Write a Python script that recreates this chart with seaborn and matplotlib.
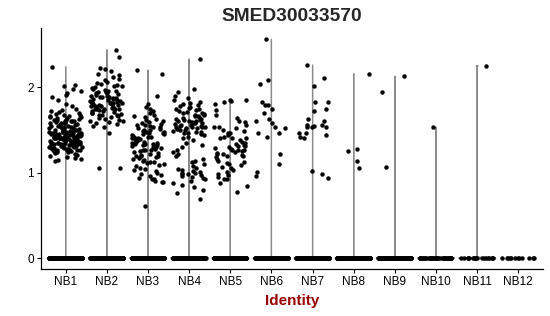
import numpy as np
import pandas as pd
import matplotlib
matplotlib.use("Agg")
import matplotlib.pyplot as plt
import seaborn as sns

# ---------------- data ----------------
categories = ["NB1", "NB2", "NB3", "NB4", "NB5", "NB6",
              "NB7", "NB8", "NB9", "NB10", "NB11", "NB12"]

NB1 = [2.24, 2.03, 2.01, 1.98, 1.96, 1.93, 1.91, 1.88, 1.85, 1.80, 1.78, 1.75,
       1.73, 1.72, 1.71, 1.70, 1.69, 1.68, 1.67, 1.66, 1.66, 1.65, 1.64, 1.64,
       1.63, 1.62, 1.62, 1.61, 1.60, 1.60, 1.59, 1.59, 1.58, 1.58, 1.57, 1.57,
       1.56, 1.56, 1.55, 1.55, 1.54, 1.54, 1.53, 1.53, 1.52, 1.52, 1.51, 1.51,
       1.50, 1.50, 1.50, 1.49, 1.49, 1.48, 1.48, 1.48, 1.47, 1.47, 1.46, 1.46,
       1.46, 1.45, 1.45, 1.45, 1.44, 1.44, 1.44, 1.43, 1.43, 1.43, 1.42, 1.42,
       1.42, 1.42, 1.41, 1.41, 1.41, 1.40, 1.40, 1.40, 1.40, 1.39, 1.39, 1.39,
       1.38, 1.38, 1.38, 1.37, 1.37, 1.37, 1.36, 1.36, 1.36, 1.35, 1.35, 1.35,
       1.34, 1.34, 1.34, 1.33, 1.33, 1.33, 1.32, 1.32, 1.32, 1.31, 1.31, 1.30,
       1.30, 1.30, 1.29, 1.29, 1.28, 1.28, 1.27, 1.27, 1.26, 1.26, 1.25, 1.25,
       1.24, 1.24, 1.23, 1.22, 1.21, 1.20, 1.18, 1.17, 1.16, 1.15, 1.14, 1.44,
       1.46, 1.41, 1.39, 1.43, 1.38, 1.47, 1.36, 1.42, 1.40, 1.45, 1.37, 1.35,
       1.50, 1.33, 1.52, 1.31, 1.55, 1.29, 1.58, 1.27, 1.61, 1.48, 1.44, 1.41,
       1.39, 1.34, 1.30, 1.62, 1.65]
NB2 = [2.44, 2.35, 2.23, 2.21, 2.19, 2.16, 2.14, 2.12, 2.10, 2.08, 2.06, 2.05,
       2.04, 2.02, 2.01, 2.00, 1.99, 1.98, 1.97, 1.96, 1.95, 1.94, 1.93, 1.92,
       1.91, 1.90, 1.90, 1.89, 1.88, 1.87, 1.87, 1.86, 1.85, 1.85, 1.84, 1.84,
       1.83, 1.83, 1.82, 1.82, 1.81, 1.81, 1.80, 1.80, 1.79, 1.79, 1.78, 1.78,
       1.77, 1.77, 1.76, 1.76, 1.75, 1.75, 1.74, 1.74, 1.73, 1.72, 1.72, 1.71,
       1.70, 1.70, 1.69, 1.68, 1.68, 1.67, 1.66, 1.65, 1.64, 1.63, 1.62, 1.61,
       1.60, 1.59, 1.58, 1.57, 1.55, 1.53, 1.46, 1.05, 1.05, 1.86, 1.93, 1.78,
       1.81, 1.88, 1.74, 1.96, 2.03]
NB3 = [2.20, 2.15, 1.90, 1.80, 1.77, 1.75, 1.72, 1.70, 1.68, 1.66, 1.65, 1.63,
       1.62, 1.60, 1.59, 1.58, 1.57, 1.56, 1.55, 1.54, 1.53, 1.52, 1.51, 1.50,
       1.50, 1.49, 1.48, 1.47, 1.46, 1.45, 1.45, 1.44, 1.43, 1.42, 1.42, 1.41,
       1.40, 1.40, 1.39, 1.38, 1.38, 1.37, 1.36, 1.36, 1.35, 1.34, 1.34, 1.33,
       1.32, 1.32, 1.31, 1.30, 1.30, 1.29, 1.28, 1.27, 1.26, 1.25, 1.24, 1.23,
       1.22, 1.21, 1.20, 1.19, 1.18, 1.17, 1.16, 1.15, 1.14, 1.13, 1.12, 1.11,
       1.10, 1.09, 1.08, 1.06, 1.04, 1.03, 1.02, 1.00, 0.99, 0.97, 0.96, 0.94,
       0.93, 0.92, 0.90, 0.89, 0.89, 0.61, 1.48, 1.35, 1.27, 1.56, 1.41, 1.19]
NB4 = [2.33, 1.98, 1.95, 1.90, 1.87, 1.85, 1.83, 1.81, 1.80, 1.79, 1.78, 1.77,
       1.76, 1.75, 1.74, 1.73, 1.72, 1.71, 1.70, 1.69, 1.68, 1.67, 1.66, 1.65,
       1.64, 1.63, 1.62, 1.62, 1.61, 1.60, 1.60, 1.59, 1.58, 1.58, 1.57, 1.56,
       1.56, 1.55, 1.55, 1.54, 1.53, 1.53, 1.52, 1.52, 1.51, 1.50, 1.50, 1.49,
       1.48, 1.47, 1.46, 1.45, 1.44, 1.42, 1.40, 1.38, 1.35, 1.32, 1.30, 1.27,
       1.24, 1.22, 1.19, 1.16, 1.14, 1.12, 1.10, 1.08, 1.06, 1.04, 1.03, 1.02,
       1.01, 1.00, 0.99, 0.98, 0.96, 0.95, 0.94, 0.92, 0.90, 0.88, 0.85, 0.83,
       0.80, 0.76, 0.69, 1.58, 1.63, 1.70, 1.54, 1.48, 1.66, 1.00, 0.97]
NB5 = [1.85, 1.85, 1.84, 1.83, 1.80, 1.73, 1.68, 1.64, 1.60, 1.59, 1.56, 1.54,
       1.53, 1.52, 1.50, 1.49, 1.47, 1.46, 1.44, 1.42, 1.41, 1.40, 1.40, 1.38,
       1.36, 1.35, 1.33, 1.32, 1.31, 1.30, 1.29, 1.28, 1.27, 1.26, 1.25, 1.24,
       1.23, 1.22, 1.21, 1.20, 1.19, 1.18, 1.16, 1.14, 1.12, 1.11, 1.10, 1.09,
       1.07, 1.05, 1.03, 1.01, 0.99, 0.97, 0.95, 0.93, 0.92, 0.88, 0.84, 0.77,
       1.27, 1.31, 1.22]
NB6 = [2.56, 2.08, 2.04, 1.83, 1.79, 1.79, 1.75, 1.70, 1.63, 1.61, 1.58, 1.53,
       1.52, 1.47, 1.46, 1.42, 1.22, 1.10, 1.01, 0.96]
NB7 = [2.26, 2.11, 2.01, 1.83, 1.83, 1.74, 1.72, 1.63, 1.61, 1.56, 1.56, 1.55,
       1.53, 1.53, 1.53, 1.47, 1.47, 1.44, 1.42, 1.40, 1.02, 0.98, 0.94]
NB8 = [2.16, 1.28, 1.25, 1.14, 1.05]
NB9 = [2.13, 1.94, 1.07]
NB10 = [1.53]
NB11 = [2.25]
NB12 = []
nonzero_values = [NB1, NB2, NB3, NB4, NB5, NB6, NB7, NB8, NB9, NB10, NB11, NB12]
# number of cells with zero expression in each identity
zero_counts = [420, 400, 380, 380, 350, 300, 300, 260, 200, 40, 18, 12]

title_text = "SMED30033570"
x_label = "Identity"
y_ticks = [0, 1, 2]

# ---------------- build table ----------------
rows = []
for cat, vals, nz in zip(categories, nonzero_values, zero_counts):
    for v in vals:
        rows.append((cat, float(v)))
    rows.extend([(cat, 0.0)] * nz)
df = pd.DataFrame(rows, columns=["ident", "expr"])

sns.set_theme(style="ticks")
plt.rcParams["font.family"] = ["Liberation Sans", "DejaVu Sans"]

W, H = 550, 316
fig = plt.figure(figsize=(W / 100, H / 100), dpi=100)
ax = fig.add_axes([41 / W, 1 - 269 / H, (543 - 41) / W, (269 - 28.3) / H])

# violins (only groups that have some non-zero value)
vdf = df[df.groupby("ident")["expr"].transform("max") > 0]
sns.violinplot(data=vdf, x="ident", y="expr", order=categories, fill=False,
               color="#8a8a8a", linewidth=0.9, inner=None, cut=0,
               density_norm="width", bw_method=0.008, gridsize=400,
               width=0.9, ax=ax)

np.random.seed(7)
sns.stripplot(data=df, x="ident", y="expr", order=categories, jitter=0.4,
              size=3.2, color="black", linewidth=0, ax=ax, zorder=3)

ax.set_xlim(-0.6, 11.6)
ax.set_ylim(-0.128, 2.69)
ax.set_yticks(y_ticks)
ax.set_yticklabels([str(t) for t in y_ticks])

for s in ["top", "right"]:
    ax.spines[s].set_visible(False)
for s in ["left", "bottom"]:
    ax.spines[s].set_linewidth(0.9)
    ax.spines[s].set_color("black")
ax.tick_params(axis="both", length=3.2, width=0.8, color="black",
               labelsize=8.5, labelcolor="black", pad=2)

ax.set_ylabel("")
ax.set_xlabel(x_label, fontsize=11, fontweight="bold", color="#990000",
              labelpad=4)
ax.set_title(title_text, fontsize=13.8, fontweight="bold", pad=5)

fig.savefig("out.png", dpi=100)
